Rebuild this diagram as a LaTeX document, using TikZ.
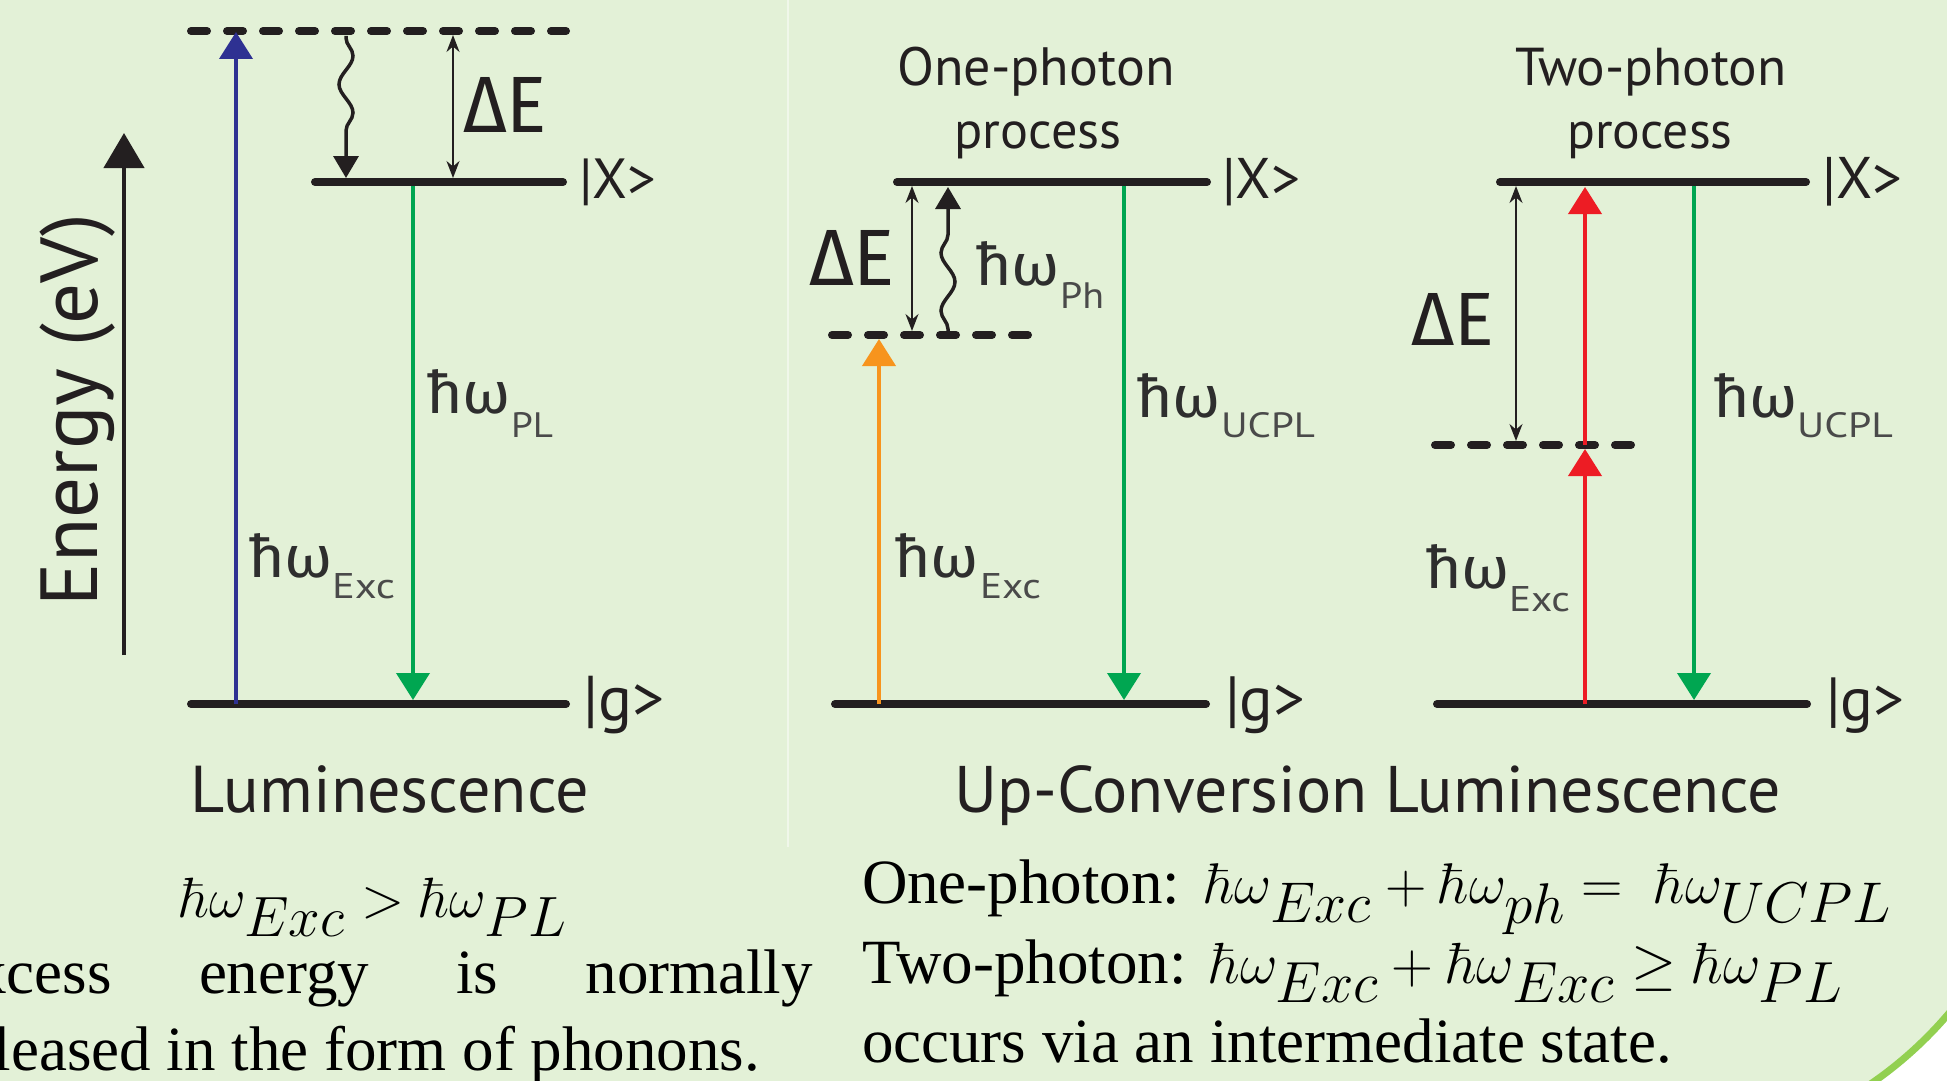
\documentclass[tikz,border=0pt]{standalone}
\usepackage[no-math]{fontspec}
\usepackage{graphicx}
\setmainfont{Liberation Serif}
\newfontfamily\ptsans{PT Sans}
\newfontfamily\firasans{Fira Sans}
\usetikzlibrary{arrows.meta,decorations.pathmorphing}
\definecolor{bgc}{HTML}{E3F1D7}
\definecolor{ink}{HTML}{231F20}
\definecolor{labc}{HTML}{2E2E2E}
\definecolor{subc}{HTML}{4A4A4A}
\definecolor{arblue}{HTML}{2E3192}
\definecolor{argreen}{HTML}{00A651}
\definecolor{arorange}{HTML}{F7941D}
\definecolor{arred}{HTML}{ED1C24}
\definecolor{slidegreen}{HTML}{92D050}
\definecolor{sepc}{HTML}{F0F7EA}
\newcommand{\hwtext}{\resizebox{85pt}{44pt}{\firasans ħω}}
\newcommand{\subtext}[3]{\resizebox{#1}{#2}{\ptsans #3}}
\tikzset{
  lvl/.style={draw=ink, line width=8pt, line cap=round},
  dlvl/.style={lvl, dash pattern=on 16pt off 20pt},
  photon/.style={line width=4pt, -{Triangle[length=27pt,width=33pt]}},
  gaparrow/.style={draw=ink, line width=1.8pt, {Stealth[length=17pt,width=13pt]}-{Stealth[length=17pt,width=13pt]}},
  wavearrow/.style={draw=ink, line width=3.5pt, -{Triangle[length=22pt,width=25pt]}, decorate,
     decoration={snake, amplitude=7pt, segment length=#1, pre length=2pt, post length=26pt}},
  txt/.style={inner sep=0pt, outer sep=0pt},
  hw/.style={txt, anchor=base west, text=labc},
  sb/.style={txt, anchor=base west, text=subc},
  hd/.style={txt, anchor=base, text=ink},
  ket/.style={txt, anchor=base west, text=ink},
  serif/.style={txt, text=black, font=\fontsize{63}{70}\selectfont},
}
\begin{document}
\begin{tikzpicture}[x=1pt,y=-1pt]
\useasboundingbox (0,0) rectangle (1947,1081);
\clip (0,0) rectangle (1947,1081);
\fill[bgc] (0,0) rectangle (1947,1081);
% slide corner
\begin{scope}
  \clip (1800,940) rectangle (1947,1081);
  \fill[white] (1800,940) rectangle (1947,1081);
  \fill[bgc] (1646.5,756.8) circle (400pt);
  \draw[slidegreen, line width=7pt] (1646.5,756.8) circle (396.5pt);
\end{scope}
% separator
\coordinate (sepT) at (788,0);
\coordinate (sepB) at (788,847);
\draw[sepc, line width=2pt] (sepT) -- (sepB);

% ================= LEFT PANEL =================
\coordinate (axB) at (124,655);
\coordinate (axT) at (124,133);
\draw[ink, line width=4.5pt, -{Triangle[length=35pt,width=40pt]}] (axB) -- (axT);
\node[txt, rotate=90, anchor=base, text=ink] (energy) at (97,410) {\resizebox{392pt}{!}{\ptsans Energy (eV)}};

\coordinate (LvA) at (191,31);  \coordinate (LvB) at (566,31);
\coordinate (LxA) at (315,182); \coordinate (LxB) at (563,182);
\coordinate (LgA) at (191,704); \coordinate (LgB) at (566,704);
\draw[dlvl] (LvA) -- (LvB);
\draw[lvl] (LxA) -- (LxB);
\draw[lvl] (LgA) -- (LgB);

\coordinate (blueS) at (236,704); \coordinate (blueE) at (236,32);
\draw[photon, arblue] (blueS) -- (blueE);
\coordinate (lgrS) at (413,186); \coordinate (lgrE) at (413,700);
\draw[photon, argreen] (lgrS) -- (lgrE);
\coordinate (lwS) at (346,36); \coordinate (lwE) at (346,178);
\draw[wavearrow=57pt] (lwS) -- (lwE);
\coordinate (ldS) at (453,35); \coordinate (ldE) at (453,178);
\draw[gaparrow] (ldS) -- (ldE);

\node[txt, anchor=base west, text=ink] (ldE1) at (463,132) {\resizebox{84pt}{55pt}{\firasans ΔE}};
\node[ket] (lX) at (579,198) {\resizebox{77pt}{!}{\ptsans |X>}};
\node[ket] (lg) at (583,720) {\resizebox{81pt}{!}{\ptsans |g>}};
\node[hw] (lPL) at (426,413) {\hwtext};
\node[sb] (lPLs) at (511,437) {\subtext{42pt}{25pt}{PL}};
\node[hw] (lEx) at (248,577) {\hwtext};
\node[sb] (lExs) at (332,598) {\subtext{63pt}{25pt}{Exc}};
\node[hd] (lum) at (390,812) {\resizebox{398pt}{!}{\ptsans Luminescence}};

% ================= MIDDLE PANEL =================
\coordinate (MxA) at (897,182);  \coordinate (MxB) at (1207,182);
\coordinate (MgA) at (835,704);  \coordinate (MgB) at (1206,704);
\coordinate (MvA) at (832,335);  \coordinate (MvB) at (1029,335);
\draw[lvl] (MxA) -- (MxB);
\draw[lvl] (MgA) -- (MgB);
\draw[dlvl] (MvA) -- (MvB);

\coordinate (orS) at (879,704); \coordinate (orE) at (879,339);
\draw[photon, arorange] (orS) -- (orE);
\coordinate (mgrS) at (1124,186); \coordinate (mgrE) at (1124,700);
\draw[photon, argreen] (mgrS) -- (mgrE);
\coordinate (mdS) at (912,186); \coordinate (mdE) at (912,331);
\draw[gaparrow] (mdS) -- (mdE);
\coordinate (mwS) at (948,331); \coordinate (mwE) at (948,187);
\draw[wavearrow=58pt] (mwS) -- (mwE);

\node[hd] (one1) at (1036,85) {\resizebox{277pt}{!}{\ptsans One-photon}};
\node[hd] (one2) at (1038,148) {\resizebox{167pt}{!}{\ptsans process}};
\node[txt, anchor=base west, text=ink] (mdE1) at (809,285) {\resizebox{86pt}{55pt}{\firasans ΔE}};
\node[ket] (mX) at (1222,198) {\resizebox{78pt}{!}{\ptsans |X>}};
\node[ket] (mg) at (1225,720) {\resizebox{80pt}{!}{\ptsans |g>}};
\node[hw] (mPh) at (975,285) {\hwtext};
\node[sb] (mPhs) at (1060,308) {\subtext{44pt}{26pt}{Ph}};
\node[hw] (mUC) at (1136,417) {\hwtext};
\node[sb] (mUCs) at (1221,437) {\subtext{94pt}{25pt}{UCPL}};
\node[hw] (mEx) at (894,577) {\hwtext};
\node[sb] (mExs) at (980,598) {\subtext{61pt}{25pt}{Exc}};

% ================= RIGHT PANEL =================
\coordinate (RxA) at (1500,182); \coordinate (RxB) at (1806,182);
\coordinate (RgA) at (1437,704); \coordinate (RgB) at (1807,704);
\coordinate (RvA) at (1435,445); \coordinate (RvB) at (1631,445);
\draw[lvl] (RxA) -- (RxB);
\draw[lvl] (RgA) -- (RgB);
\draw[dlvl] (RvA) -- (RvB);

\coordinate (rdS) at (1516,186); \coordinate (rdE) at (1516,441);
\draw[gaparrow] (rdS) -- (rdE);
\coordinate (r1S) at (1585,704); \coordinate (r1E) at (1585,449);
\draw[photon, arred] (r1S) -- (r1E);
\coordinate (r2S) at (1585,445); \coordinate (r2E) at (1585,187);
\draw[photon, arred] (r2S) -- (r2E);
\coordinate (rgrS) at (1694,186); \coordinate (rgrE) at (1694,700);
\draw[photon, argreen] (rgrS) -- (rgrE);

\node[hd] (two1) at (1651,85) {\resizebox{271pt}{!}{\ptsans Two-photon}};
\node[hd] (two2) at (1650,148) {\resizebox{165pt}{!}{\ptsans process}};
\node[txt, anchor=base west, text=ink] (rdE1) at (1411,345) {\resizebox{83pt}{52pt}{\firasans ΔE}};
\node[ket] (rX) at (1822,198) {\resizebox{80pt}{!}{\ptsans |X>}};
\node[ket] (rg) at (1826,720) {\resizebox{78pt}{!}{\ptsans |g>}};
\node[hw] (rUC) at (1713,417) {\hwtext};
\node[sb] (rUCs) at (1797,437) {\subtext{96pt}{25pt}{UCPL}};
\node[hw] (rEx) at (1425,588) {\hwtext};
\node[sb] (rExs) at (1509,611) {\subtext{61pt}{25pt}{Exc}};

\node[hd] (ucl) at (1368,812) {\resizebox{826pt}{!}{\ptsans Up-Conversion Luminescence}};

% ================= BOTTOM TEXT =================
\node[serif, anchor=base west] (f1) at (180,917) {\resizebox{387pt}{!}{$\hbar\omega_{Exc} > \hbar\omega_{PL}$}};
\node[serif, anchor=base west] (t1) at (-63,993) {\makebox[876pt][s]{Excess energy is normally}};
\node[serif, anchor=base east] (t2) at (760,1070) {released in the form of phonons.};

\node[serif, anchor=base west] (r1a) at (862,903) {One-photon:};
\node[serif, anchor=base west] (r1b) at (1205,903) {\resizebox{687pt}{!}{$\hbar\omega_{Exc}+\hbar\omega_{ph}=\;\hbar\omega_{UCPL}$}};
\node[serif, anchor=base west] (r2a) at (862,983) {Two-photon:};
\node[serif, anchor=base west] (r2b) at (1210,983) {\resizebox{633pt}{!}{$\hbar\omega_{Exc}+\hbar\omega_{Exc}\geq\hbar\omega_{PL}$}};
\node[serif, anchor=base west] (r3) at (862,1062) {occurs via an intermediate state.};
\end{tikzpicture}
\end{document}
